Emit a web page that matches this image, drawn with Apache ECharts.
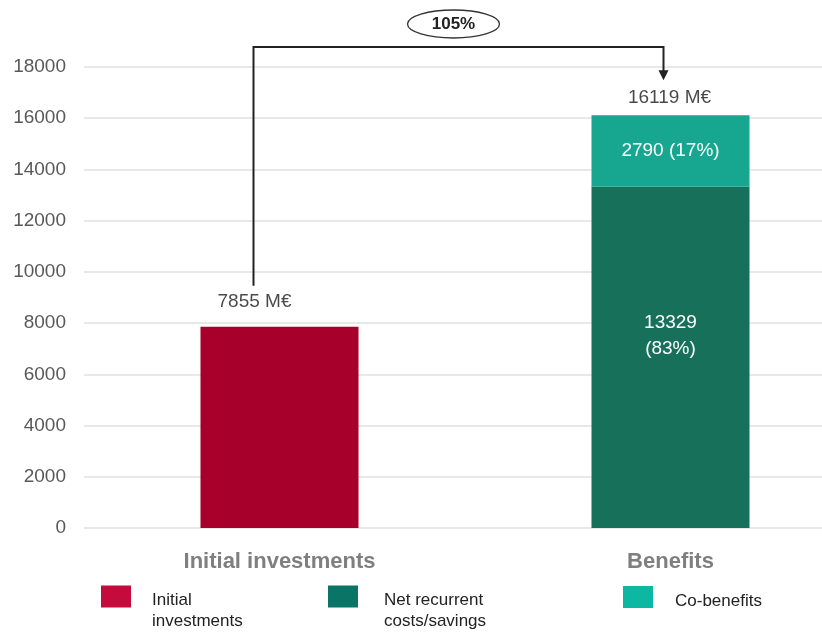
<!DOCTYPE html>
<html>
<head>
<meta charset="utf-8">
<script src="https://cdn.jsdelivr.net/npm/echarts@6/dist/echarts.min.js"></script>
<style>
  html, body { margin: 0; padding: 0; background: #fff; }
  #chart { width: 822px; height: 634px; }
</style>
</head>
<body>
<div id="chart"></div>
<script>
// Categories and values (M€)
var categories = ['Initial investments', 'Benefits'];
var initialInvestments = [7855, '-'];
var netRecurrent = ['-', 13329];
var coBenefits = ['-', 2790];
var yTicks = { min: 0, max: 18000, interval: 2000 };

var FONT = '"Liberation Sans", Arial, sans-serif';

function num(v) { return typeof v === 'number' ? v : 0; }
var totals = categories.map(function (_, i) {
  return num(initialInvestments[i]) + num(netRecurrent[i]) + num(coBenefits[i]);
});
var benefitTotal = totals[1];
var growthPct = Math.round((totals[1] - totals[0]) / totals[0] * 100);

function pct(v) { return Math.round(v / benefitTotal * 100); }

var legendRich = {
  s: { fontSize: 1, lineHeight: 29 },
  t: { fontFamily: FONT, fontSize: 17, lineHeight: 21, color: '#222' }
};
var legendRichOne = {
  s: { fontSize: 1, lineHeight: 8 },
  t: { fontFamily: FONT, fontSize: 17, lineHeight: 21, color: '#222' }
};

var chart = echarts.init(document.getElementById('chart'));

var option = {
  backgroundColor: '#fff',
  animation: false,
  grid: { left: 84, top: 67, width: 782, bottom: 106, outerBoundsMode: 'none', containLabel: false },
  xAxis: {
    type: 'category',
    data: categories,
    axisLine: { show: false },
    axisTick: { show: false },
    axisLabel: {
      margin: 23,
      fontFamily: FONT,
      fontSize: 22,
      fontWeight: 'bold',
      color: '#7f7f7f'
    }
  },
  yAxis: {
    type: 'value',
    min: yTicks.min,
    max: yTicks.max,
    interval: yTicks.interval,
    axisLine: { show: false },
    axisTick: { show: false },
    axisLabel: {
      margin: 18, fontFamily: FONT, fontSize: 19, color: '#595959',
      formatter: function (v) { return String(v); }
    },
    splitLine: { lineStyle: { color: '#e8e8e8', width: 2 } }
  },
  legend: [
    {
      left: 101, top: 575, padding: 0,
      itemWidth: 30, itemHeight: 22,
      icon: 'rect',
      selectedMode: false,
      data: [{ name: 'Initial investments', itemStyle: { color: '#c50a3c' } }],
      formatter: function () { return '{s| }\n{t|Initial}\n{t|investments}'; },
      textStyle: { padding: [0, 0, 0, 16], rich: legendRich }
    },
    {
      left: 328, top: 575, padding: 0,
      itemWidth: 30, itemHeight: 22,
      icon: 'rect',
      selectedMode: false,
      data: [{ name: 'Net recurrent costs/savings', itemStyle: { color: '#0a7466' } }],
      formatter: function () { return '{s| }\n{t|Net recurrent}\n{t|costs/savings}'; },
      textStyle: { padding: [0, 0, 0, 21], rich: legendRich }
    },
    {
      left: 623, top: 586, padding: 0,
      itemWidth: 30, itemHeight: 22,
      icon: 'rect',
      selectedMode: false,
      data: [{ name: 'Co-benefits', itemStyle: { color: '#0db8a3' } }],
      formatter: function (name) { return '{s| }\n{t|' + name + '}'; },
      textStyle: { padding: [0, 0, 0, 17], rich: legendRichOne }
    }
  ],
  series: [
    {
      name: 'Initial investments',
      type: 'bar',
      stack: 'total',
      barWidth: 158,
      data: initialInvestments,
      itemStyle: { color: '#a6002b' }
    },
    {
      name: 'Net recurrent costs/savings',
      type: 'bar',
      stack: 'total',
      barWidth: 158,
      data: netRecurrent,
      itemStyle: { color: '#17705a' },
      label: {
        show: true,
        position: 'inside',
        offset: [0, -22],
        fontFamily: FONT,
        fontSize: 19,
        lineHeight: 26,
        color: '#fff',
        formatter: function (p) { return p.value + '\n(' + pct(p.value) + '%)'; }
      }
    },
    {
      name: 'Co-benefits',
      type: 'bar',
      stack: 'total',
      barWidth: 158,
      data: coBenefits,
      itemStyle: { color: '#17a68f' },
      label: {
        show: true,
        position: 'inside',
        fontFamily: FONT,
        fontSize: 19,
        color: '#fff',
        formatter: function (p) { return p.value + ' (' + pct(p.value) + '%)'; }
      }
    },
    {
      name: 'Total',
      type: 'scatter',
      symbolSize: 0,
      silent: true,
      data: [
        { value: totals[0], label: { offset: [-25, -8] } },
        { value: totals[1], label: { offset: [-1, 0] } }
      ],
      label: {
        show: true,
        position: 'top',
        distance: 8,
        fontFamily: FONT,
        fontSize: 19,
        color: '#1a1a1a',
        formatter: function (p) { return p.value + ' M€'; }
      }
    }
  ]
};

chart.setOption(option);

// Bracket connecting the two totals, with the growth label on top
function drawBracket() {
  var p0 = chart.convertToPixel({ gridIndex: 0 }, [0, totals[0]]);
  var p1 = chart.convertToPixel({ gridIndex: 0 }, [1, totals[1]]);
  var top = chart.convertToPixel({ gridIndex: 0 }, [0, yTicks.max])[1] - 20;
  var xL = p0[0] - 26, xR = p1[0] - 7;
  var yL = p0[1] - 41, yR = p1[1] - 35;
  var mid = (xL + xR) / 2 - 5;
  chart.setOption({
    graphic: [
      {
        type: 'polyline',
        shape: { points: [[xL, yL], [xL, top], [xR, top], [xR, yR - 9]] },
        style: { stroke: '#222', lineWidth: 2, fill: null },
        silent: true
      },
      {
        type: 'polygon',
        shape: { points: [[xR - 5, yR - 10], [xR + 5, yR - 10], [xR, yR]] },
        style: { fill: '#222' },
        silent: true
      },
      {
        type: 'ellipse',
        shape: { cx: mid, cy: top - 23, rx: 46, ry: 14 },
        style: { stroke: '#333', lineWidth: 1.3, fill: '#fff' },
        silent: true
      },
      {
        type: 'text',
        x: mid, y: top - 23,
        style: {
          text: growthPct + '%',
          fontFamily: FONT, fontSize: 17, fontWeight: 'bold',
          fill: '#222', align: 'center', verticalAlign: 'middle'
        },
        silent: true
      }
    ]
  });
}
drawBracket();
</script>
</body>
</html>
